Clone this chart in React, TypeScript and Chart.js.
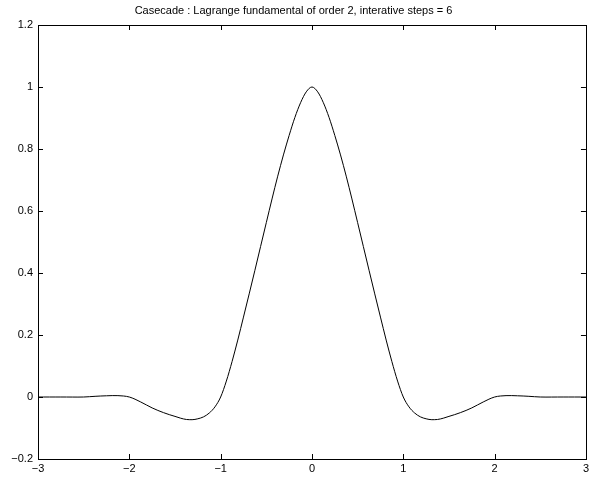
import React, { useEffect, useRef } from "react";
import { Chart, registerables } from "chart.js";

Chart.register(...registerables);

const TITLE = "Casecade : Lagrange fundamental of order 2, interative steps = 6";

// Sample positions (step 1/16) and curve values
const xValues: number[] = [
  -3, -2.9375, -2.875, -2.8125, -2.75, -2.6875, -2.625, -2.5625,
  -2.5, -2.4375, -2.375, -2.3125, -2.25, -2.1875, -2.125, -2.0625,
  -2, -1.9375, -1.875, -1.8125, -1.75, -1.6875, -1.625, -1.5625,
  -1.5, -1.4375, -1.375, -1.3125, -1.25, -1.1875, -1.125, -1.0625,
  -1, -0.9375, -0.875, -0.8125, -0.75, -0.6875, -0.625, -0.5625,
  -0.5, -0.4375, -0.375, -0.3125, -0.25, -0.1875, -0.125, -0.0625,
  0,
  0.0625, 0.125, 0.1875, 0.25, 0.3125, 0.375, 0.4375, 0.5,
  0.5625, 0.625, 0.6875, 0.75, 0.8125, 0.875, 0.9375, 1,
  1.0625, 1.125, 1.1875, 1.25, 1.3125, 1.375, 1.4375, 1.5,
  1.5625, 1.625, 1.6875, 1.75, 1.8125, 1.875, 1.9375, 2,
  2.0625, 2.125, 2.1875, 2.25, 2.3125, 2.375, 2.4375, 2.5,
  2.5625, 2.625, 2.6875, 2.75, 2.8125, 2.875, 2.9375, 3,
];
const yValues: number[] = [
  0, 0, 0, 0, 0, -0.0001, -0.0002, -0.0003,
  0, 0.001, 0.0022, 0.0032, 0.0039, 0.0045, 0.0044, 0.0032,
  0, -0.0071, -0.0161, -0.0257, -0.0352, -0.0433, -0.0505, -0.0569,
  -0.0625, -0.0684, -0.0725, -0.0732, -0.0703, -0.0641, -0.0518, -0.0319,
  0, 0.0514, 0.1143, 0.1837, 0.2578, 0.3326, 0.4087, 0.4857,
  0.5625, 0.6389, 0.7124, 0.7809, 0.8438, 0.9015, 0.9492, 0.9844,
  1,
  0.9844, 0.9492, 0.9015, 0.8438, 0.7809, 0.7124, 0.6389, 0.5625,
  0.4857, 0.4087, 0.3326, 0.2578, 0.1837, 0.1143, 0.0514, 0,
  -0.0319, -0.0518, -0.0641, -0.0703, -0.0732, -0.0725, -0.0684, -0.0625,
  -0.0569, -0.0505, -0.0433, -0.0352, -0.0257, -0.0161, -0.0071, 0,
  0.0032, 0.0044, 0.0045, 0.0039, 0.0032, 0.0022, 0.001, 0,
  -0.0003, -0.0002, -0.0001, 0, 0, 0, 0, 0,
];
const xTicks: number[] = [-3, -2, -1, 0, 1, 2, 3];
const yTicks: number[] = [-0.2, 0, 0.2, 0.4, 0.6, 0.8, 1, 1.2];

const FONT = "'Liberation Sans', Arial, Helvetica, sans-serif";

const fmt = (v: number) => {
  const r = Math.round(v * 10) / 10;
  const s = String(Math.abs(r));
  return r < 0 ? "\u2212" + s : s;
};

const frameTicks = {
  id: "frameTicks",
  afterDraw(chart: any) {
    const { ctx, chartArea, scales } = chart;
    const { left, right, top, bottom } = chartArea;
    const L = 5;
    ctx.save();
    ctx.strokeStyle = "#000";
    ctx.lineWidth = 1;
    ctx.beginPath();
    for (const v of xTicks) {
      const px = Math.round(scales.x.getPixelForValue(v)) + 0.5;
      ctx.moveTo(px, bottom);
      ctx.lineTo(px, bottom - L);
      ctx.moveTo(px, top);
      ctx.lineTo(px, top + L);
    }
    for (const v of yTicks) {
      const py = Math.round(scales.y.getPixelForValue(v)) + 0.5;
      ctx.moveTo(left, py);
      ctx.lineTo(left + L, py);
      ctx.moveTo(right, py);
      ctx.lineTo(right - L, py);
    }
    ctx.stroke();
    ctx.strokeRect(Math.round(left) + 0.5, Math.round(top) + 0.5, Math.round(right - left), Math.round(bottom - top));
    ctx.restore();
  },
};

export default function App() {
  const ref = useRef<HTMLCanvasElement | null>(null);

  useEffect(() => {
    document.body.style.margin = "0";
    const canvas = ref.current;
    if (!canvas) return;
    const points = xValues.map((x, i) => ({ x, y: yValues[i] }));
    const chart = new Chart(canvas, {
      type: "line",
      data: {
        datasets: [
          {
            data: points,
            borderColor: "#000",
            borderWidth: 1,
            pointRadius: 0,
            fill: false,
            cubicInterpolationMode: "monotone",
          },
        ],
      },
      options: {
        animation: false,
        responsive: false,
        devicePixelRatio: 1,
        layout: { padding: { top: 0, right: 5, left: 0, bottom: 0 } },
        plugins: {
          legend: { display: false },
          tooltip: { enabled: false },
          title: {
            display: true,
            text: TITLE,
            color: "#000",
            font: { family: FONT, size: 11, weight: "normal" },
            padding: { top: 4, bottom: 7.8 },
          },
        },
        scales: {
          x: {
            type: "linear",
            min: -3,
            max: 3,
            afterFit: (s: any) => {
              s.height = 24;
            },
            afterBuildTicks: (s: any) => {
              s.ticks = xTicks.map((v) => ({ value: v }));
            },
            grid: { display: true, drawOnChartArea: false, drawTicks: false },
            border: { display: false },
            ticks: {
              color: "#000",
              font: { family: FONT, size: 11 },
              padding: 3,
              maxRotation: 0,
              autoSkip: false,
              callback: (v: any) => fmt(Number(v)),
            },
          },
          y: {
            type: "linear",
            min: -0.2,
            max: 1.2,
            afterFit: (s: any) => {
              s.width = 38;
            },
            afterBuildTicks: (s: any) => {
              s.ticks = yTicks.map((v) => ({ value: v }));
            },
            grid: { display: true, drawOnChartArea: false, drawTicks: false },
            border: { display: false },
            ticks: {
              color: "#000",
              font: { family: FONT, size: 11 },
              padding: 5,
              autoSkip: false,
              callback: (v: any) => fmt(Number(v)),
            },
          },
        },
      },
      plugins: [frameTicks],
    } as any);
    return () => chart.destroy();
  }, []);

  return (
    <div style={{ position: "absolute", left: 0, top: 0, width: 592, height: 483, background: "#fff" }}>
      <canvas ref={ref} width={592} height={483} />
    </div>
  );
}
